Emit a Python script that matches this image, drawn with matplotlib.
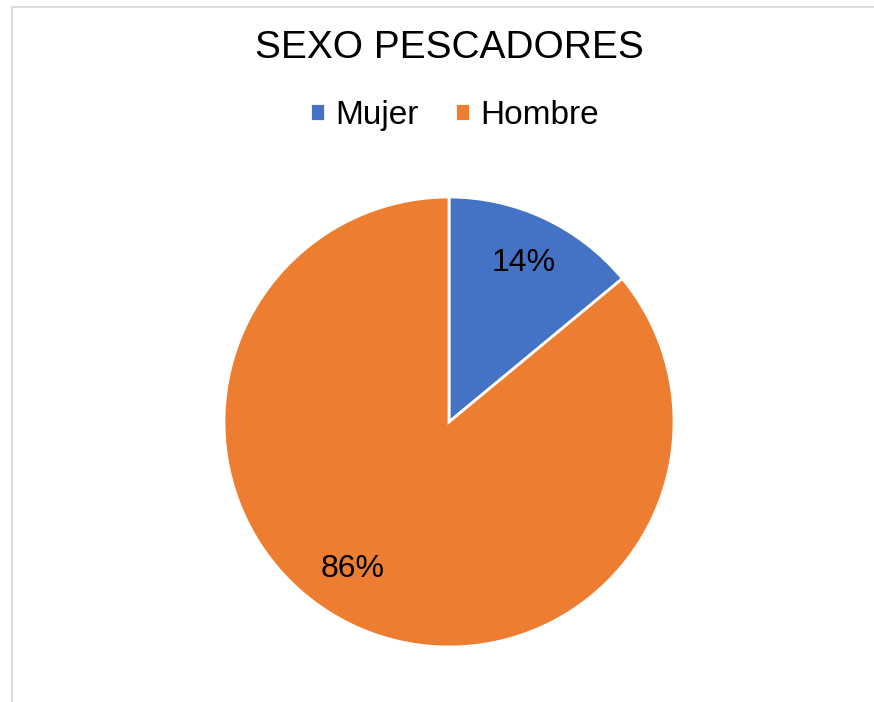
import matplotlib.pyplot as plt
from matplotlib.lines import Line2D

# ========== DATA ==========

title = "SEXO PESCADORES"
labels = ["Mujer", "Hombre"]
values = [14, 86]
colors = ["#4472C4", "#ED7D31"]

plt.rcParams["font.family"] = ["Liberation Sans", "DejaVu Sans"]

# ========== FIGURE ==========

W, H = 874, 702
fig = plt.figure(figsize=(W / 100, H / 100), dpi=100)

# light frame (top and left edges only are visible in the crop)
fig.lines.append(Line2D([12 / W, 12 / W, 1.0], [0.0, 1 - 7 / H, 1 - 7 / H],
                        transform=fig.transFigure, color="#D9D9D9",
                        linewidth=1.3))

cx, cy, r = 449, 422, 225
ax = fig.add_axes([(cx - r) / W, (H - cy - r) / H, 2 * r / W, 2 * r / H])
wedges, texts, autotexts = ax.pie(
    values, colors=colors, startangle=90, counterclock=False,
    autopct="%1.0f%%", pctdistance=0.78, radius=1,
    wedgeprops={"edgecolor": "white", "linewidth": 2},
    textprops={"fontsize": 23, "color": "#000000"})
# Excel puts the big slice's label a little further out to the left
autotexts[1].set_position((-0.43, -0.655))
ax.set_xlim(-1, 1)
ax.set_ylim(-1, 1)
ax.set_aspect("equal")

# ========== LABELING ==========

fig.text(0.514, 0.932, title, ha="center", va="center", fontsize=28)
fig.legend(wedges, labels, loc="center", bbox_to_anchor=(0.52, 0.835),
           ncol=2, frameon=False, fontsize=24, handlelength=0.45,
           handleheight=0.45, handletextpad=0.3, columnspacing=1.1)

plt.savefig("out.png", dpi=100)
